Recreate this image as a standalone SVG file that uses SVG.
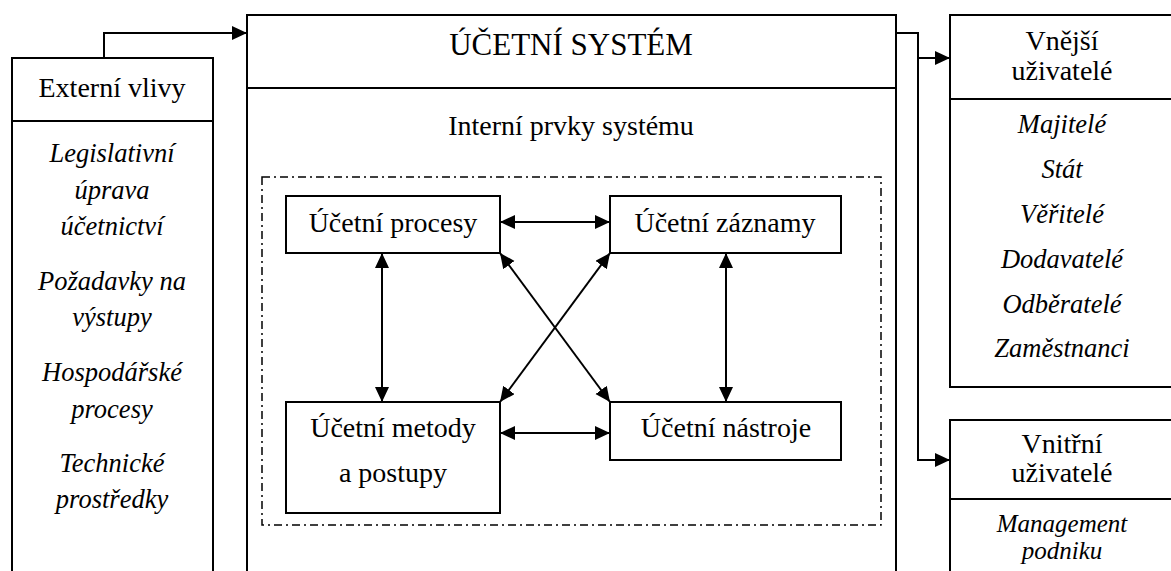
<svg xmlns="http://www.w3.org/2000/svg" width="1171" height="571" viewBox="0 0 1171 571">
<style>
.box{fill:#fff;stroke:#000;stroke-width:2}
.ln{stroke:#000;stroke-width:2;fill:none}
text{font-family:'Liberation Serif','DejaVu Serif',serif;fill:#000;text-anchor:middle}
.t{font-size:28px}
.i{font-size:26.5px;font-style:italic}
.c{stroke:#000;stroke-width:2;fill:none;marker-end:url(#ah)}
.d{stroke:#000;stroke-width:2;fill:none;marker-end:url(#ah);marker-start:url(#ah)}
</style>
<defs>
<marker id="ah" markerUnits="userSpaceOnUse" markerWidth="16" markerHeight="15" refX="15" refY="7" orient="auto-start-reverse">
<path d="M0,0 L15,7 L0,14 z" fill="#000"/>
</marker>
</defs>
<rect width="1171" height="571" fill="#fff"/>
<g id="externi">
<rect class="box" x="12" y="58" width="201" height="600"/>
<line class="ln" x1="12" y1="121" x2="213" y2="121"/>
<text class="t" x="112" y="97">Externí vlivy</text>
<text class="i" x="112" y="162">Legislativní</text>
<text class="i" x="112" y="199">úprava</text>
<text class="i" x="112" y="235">účetnictví</text>
<text class="i" x="112" y="290">Požadavky na</text>
<text class="i" x="112" y="326">výstupy</text>
<text class="i" x="112" y="381">Hospodářské</text>
<text class="i" x="112" y="418">procesy</text>
<text class="i" x="112" y="472">Technické</text>
<text class="i" x="112" y="508">prostředky</text>
</g>
<g id="system">
<rect class="box" x="247" y="15" width="649" height="600"/>
<line class="ln" x1="247" y1="88" x2="896" y2="88"/>
<text class="t" x="571" y="55" style="font-size:31px">ÚČETNÍ SYSTÉM</text>
<text class="t" x="571" y="135">Interní prvky systému</text>
<rect x="262" y="177" width="619" height="348" fill="none" stroke="#000" stroke-width="1.5" stroke-dasharray="8 4 2 4"/>
</g>
<g id="procesy">
<rect class="box" x="286" y="196" width="214" height="57"/>
<text class="t" x="393" y="232">Účetní procesy</text>
</g>
<g id="zaznamy">
<rect class="box" x="610" y="196" width="231" height="57"/>
<text class="t" x="725" y="232">Účetní záznamy</text>
</g>
<g id="metody">
<rect class="box" x="286" y="402" width="214" height="111"/>
<text class="t" x="393" y="437">Účetní metody</text>
<text class="t" x="393" y="482">a postupy</text>
</g>
<g id="nastroje">
<rect class="box" x="610" y="402" width="231" height="58"/>
<text class="t" x="726" y="437">Účetní nástroje</text>
</g>
<g id="vnejsi">
<rect class="box" x="950" y="15" width="240" height="372"/>
<line class="ln" x1="950" y1="99" x2="1190" y2="99"/>
<text class="t" x="1062" y="50">Vnější</text>
<text class="t" x="1062" y="80">uživatelé</text>
<text class="i" x="1062" y="133">Majitelé</text>
<text class="i" x="1062" y="178">Stát</text>
<text class="i" x="1062" y="223">Věřitelé</text>
<text class="i" x="1062" y="268">Dodavatelé</text>
<text class="i" x="1062" y="313">Odběratelé</text>
<text class="i" x="1062" y="357">Zaměstnanci</text>
</g>
<g id="vnitrni">
<rect class="box" x="950" y="420" width="240" height="200"/>
<line class="ln" x1="950" y1="499" x2="1190" y2="499"/>
<text class="t" x="1062" y="453">Vnitřní</text>
<text class="t" x="1062" y="482">uživatelé</text>
<text class="i" x="1062" y="532" style="font-size:25px">Management</text>
<text class="i" x="1062" y="559" style="font-size:25px">podniku</text>
</g>
<g id="connectors">
<path class="c" d="M104,58 V33 H247"/>
<path class="c" d="M896,33 H918 V460 H950"/>
<path class="c" d="M918,58 H950"/>
<path class="d" d="M500,222 H610"/>
<path class="d" d="M382,253 V402"/>
<path class="d" d="M726,253 V402"/>
<path class="d" d="M500,433 H610"/>
<path class="d" d="M500,253 L610,402"/>
<path class="d" d="M610,253 L500,402"/>
</g>
</svg>
